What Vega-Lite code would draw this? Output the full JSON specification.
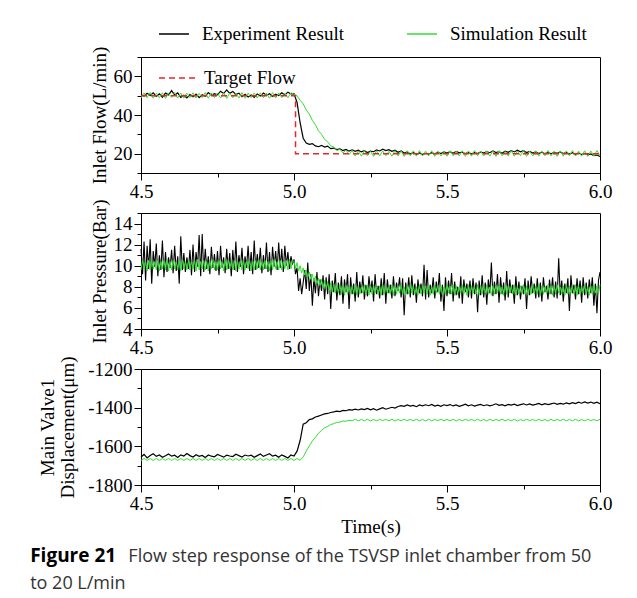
{
"$schema": "https://vega.github.io/schema/vega-lite/v6.json",
"background": "white",
"padding": {"left": 30, "top": 18, "right": 10, "bottom": 5},
"config": {
  "font": "Liberation Serif",
  "view": {"stroke": "black", "strokeWidth": 1},
  "axis": {"labelFont": "Liberation Serif", "labelFontSize": 19, "labelColor": "black", "titleFont": "Liberation Serif", "titleFontSize": 19, "titleFontWeight": "normal", "titleColor": "black", "grid": false, "domainColor": "black", "tickColor": "black", "labelPadding": 2, "titlePadding": 4, "labelFlush": false, "labelOverlap": false},
  "legend": {"labelFont": "Liberation Serif", "labelFontSize": 19, "labelColor": "black", "symbolType": "stroke"}
},
"datasets": {
"d": [
{"t":4.50,"fe":50.5,"fs":48.8,"de":-1655,"ds":-1673},
{"t":4.51,"fe":49.8,"fs":51.4,"de":-1642,"ds":-1663},
{"t":4.52,"fe":51.2,"fs":49.0,"de":-1660,"ds":-1673},
{"t":4.53,"fe":50.1,"fs":51.6,"de":-1648,"ds":-1663},
{"t":4.54,"fe":51.5,"fs":48.7,"de":-1638,"ds":-1673},
{"t":4.55,"fe":49.6,"fs":51.3,"de":-1652,"ds":-1663},
{"t":4.56,"fe":50.9,"fs":48.9,"de":-1645,"ds":-1673},
{"t":4.57,"fe":49.2,"fs":51.5,"de":-1657,"ds":-1663},
{"t":4.58,"fe":51.3,"fs":48.6,"de":-1649,"ds":-1673},
{"t":4.59,"fe":50.4,"fs":51.2,"de":-1640,"ds":-1663},
{"t":4.60,"fe":52.6,"fs":49.1,"de":-1651,"ds":-1673},
{"t":4.61,"fe":50.3,"fs":51.6,"de":-1646,"ds":-1663},
{"t":4.62,"fe":51.4,"fs":48.8,"de":-1658,"ds":-1673},
{"t":4.63,"fe":49.1,"fs":51.4,"de":-1644,"ds":-1663},
{"t":4.64,"fe":50.2,"fs":48.7,"de":-1650,"ds":-1673},
{"t":4.65,"fe":48.8,"fs":51.3,"de":-1637,"ds":-1663},
{"t":4.66,"fe":50.6,"fs":49.0,"de":-1648,"ds":-1673},
{"t":4.67,"fe":49.4,"fs":51.5,"de":-1655,"ds":-1663},
{"t":4.68,"fe":50.8,"fs":48.8,"de":-1643,"ds":-1673},
{"t":4.69,"fe":49.0,"fs":51.2,"de":-1652,"ds":-1663},
{"t":4.70,"fe":50.5,"fs":48.9,"de":-1647,"ds":-1673},
{"t":4.71,"fe":49.7,"fs":51.6,"de":-1658,"ds":-1663},
{"t":4.72,"fe":51.6,"fs":48.7,"de":-1645,"ds":-1673},
{"t":4.73,"fe":50.2,"fs":51.4,"de":-1651,"ds":-1663},
{"t":4.74,"fe":51.0,"fs":49.0,"de":-1654,"ds":-1673},
{"t":4.75,"fe":50.4,"fs":51.3,"de":-1642,"ds":-1663},
{"t":4.76,"fe":52.3,"fs":48.8,"de":-1649,"ds":-1673},
{"t":4.77,"fe":51.1,"fs":51.5,"de":-1656,"ds":-1663},
{"t":4.78,"fe":53.0,"fs":48.6,"de":-1646,"ds":-1673},
{"t":4.79,"fe":51.2,"fs":51.4,"de":-1650,"ds":-1663},
{"t":4.80,"fe":52.2,"fs":48.9,"de":-1653,"ds":-1673},
{"t":4.81,"fe":50.6,"fs":51.2,"de":-1641,"ds":-1663},
{"t":4.82,"fe":51.3,"fs":48.8,"de":-1648,"ds":-1673},
{"t":4.83,"fe":49.5,"fs":51.6,"de":-1655,"ds":-1663},
{"t":4.84,"fe":50.7,"fs":48.7,"de":-1645,"ds":-1673},
{"t":4.85,"fe":49.3,"fs":51.3,"de":-1650,"ds":-1663},
{"t":4.86,"fe":50.4,"fs":49.0,"de":-1646,"ds":-1673},
{"t":4.87,"fe":49.1,"fs":51.4,"de":-1657,"ds":-1663},
{"t":4.88,"fe":50.9,"fs":48.8,"de":-1648,"ds":-1673},
{"t":4.89,"fe":49.8,"fs":51.5,"de":-1640,"ds":-1663},
{"t":4.90,"fe":51.4,"fs":48.9,"de":-1652,"ds":-1673},
{"t":4.91,"fe":50.2,"fs":51.3,"de":-1645,"ds":-1663},
{"t":4.92,"fe":51.0,"fs":48.7,"de":-1638,"ds":-1673},
{"t":4.93,"fe":49.6,"fs":51.6,"de":-1651,"ds":-1663},
{"t":4.94,"fe":50.8,"fs":48.8,"de":-1646,"ds":-1673},
{"t":4.95,"fe":50.1,"fs":51.4,"de":-1656,"ds":-1663},
{"t":4.96,"fe":51.5,"fs":49.0,"de":-1644,"ds":-1673},
{"t":4.97,"fe":50.3,"fs":51.2,"de":-1652,"ds":-1663},
{"t":4.98,"fe":51.8,"fs":48.9,"de":-1660,"ds":-1673},
{"t":4.99,"fe":50.9,"fs":51.5,"de":-1645,"ds":-1663},
{"t":5.00,"fe":51.0,"fs":50.8,"de":-1650,"ds":-1673},
{"t":5.01,"fe":46.5,"fs":50.0,"de":-1625,"ds":-1663},
{"t":5.02,"fe":36.0,"fs":47.6,"de":-1570,"ds":-1672},
{"t":5.03,"fe":28.0,"fs":45.8,"de":-1485,"ds":-1655},
{"t":5.04,"fe":25.5,"fs":42.6,"de":-1478,"ds":-1625},
{"t":5.05,"fe":24.8,"fs":40.5,"de":-1462,"ds":-1598},
{"t":5.06,"fe":25.2,"fs":37.2,"de":-1458,"ds":-1572},
{"t":5.07,"fe":24.0,"fs":35.0,"de":-1448,"ds":-1553},
{"t":5.08,"fe":23.6,"fs":31.8,"de":-1444,"ds":-1532},
{"t":5.09,"fe":24.3,"fs":30.0,"de":-1438,"ds":-1518},
{"t":5.10,"fe":23.4,"fs":27.4,"de":-1432,"ds":-1504},
{"t":5.11,"fe":23.9,"fs":26.2,"de":-1430,"ds":-1497},
{"t":5.12,"fe":22.6,"fs":24.0,"de":-1425,"ds":-1487},
{"t":5.13,"fe":22.9,"fs":23.5,"de":-1422,"ds":-1483},
{"t":5.14,"fe":22.1,"fs":21.6,"de":-1418,"ds":-1476},
{"t":5.15,"fe":22.5,"fs":22.3,"de":-1420,"ds":-1475},
{"t":5.16,"fe":21.6,"fs":20.4,"de":-1414,"ds":-1469},
{"t":5.17,"fe":22.2,"fs":21.8,"de":-1416,"ds":-1470},
{"t":5.18,"fe":21.3,"fs":19.6,"de":-1410,"ds":-1465},
{"t":5.19,"fe":22.0,"fs":21.6,"de":-1413,"ds":-1468},
{"t":5.20,"fe":21.2,"fs":18.8,"de":-1408,"ds":-1460},
{"t":5.21,"fe":21.8,"fs":21.4,"de":-1412,"ds":-1468},
{"t":5.22,"fe":20.9,"fs":18.7,"de":-1406,"ds":-1461},
{"t":5.23,"fe":21.5,"fs":21.6,"de":-1410,"ds":-1468},
{"t":5.24,"fe":20.6,"fs":18.9,"de":-1404,"ds":-1460},
{"t":5.25,"fe":21.3,"fs":21.3,"de":-1411,"ds":-1469},
{"t":5.26,"fe":21.0,"fs":18.6,"de":-1405,"ds":-1461},
{"t":5.27,"fe":21.9,"fs":21.5,"de":-1413,"ds":-1468},
{"t":5.28,"fe":21.4,"fs":18.8,"de":-1406,"ds":-1460},
{"t":5.29,"fe":22.3,"fs":21.4,"de":-1400,"ds":-1467},
{"t":5.30,"fe":21.6,"fs":18.9,"de":-1408,"ds":-1461},
{"t":5.31,"fe":22.1,"fs":21.2,"de":-1403,"ds":-1468},
{"t":5.32,"fe":21.2,"fs":18.7,"de":-1398,"ds":-1460},
{"t":5.33,"fe":21.8,"fs":21.6,"de":-1402,"ds":-1469},
{"t":5.34,"fe":20.7,"fs":18.8,"de":-1394,"ds":-1461},
{"t":5.35,"fe":21.4,"fs":21.3,"de":-1390,"ds":-1468},
{"t":5.36,"fe":20.3,"fs":18.6,"de":-1393,"ds":-1460},
{"t":5.37,"fe":20.9,"fs":21.5,"de":-1386,"ds":-1467},
{"t":5.38,"fe":19.8,"fs":18.9,"de":-1392,"ds":-1461},
{"t":5.39,"fe":20.6,"fs":21.4,"de":-1388,"ds":-1468},
{"t":5.40,"fe":19.7,"fs":18.7,"de":-1395,"ds":-1460},
{"t":5.41,"fe":20.4,"fs":21.6,"de":-1386,"ds":-1468},
{"t":5.42,"fe":19.5,"fs":18.8,"de":-1391,"ds":-1461},
{"t":5.43,"fe":20.2,"fs":21.3,"de":-1385,"ds":-1469},
{"t":5.44,"fe":19.6,"fs":18.9,"de":-1390,"ds":-1460},
{"t":5.45,"fe":20.5,"fs":21.5,"de":-1383,"ds":-1468},
{"t":5.46,"fe":19.9,"fs":18.6,"de":-1392,"ds":-1461},
{"t":5.47,"fe":20.7,"fs":21.4,"de":-1387,"ds":-1467},
{"t":5.48,"fe":20.1,"fs":18.8,"de":-1393,"ds":-1460},
{"t":5.49,"fe":20.9,"fs":21.2,"de":-1385,"ds":-1468},
{"t":5.50,"fe":20.3,"fs":18.7,"de":-1389,"ds":-1461},
{"t":5.51,"fe":21.0,"fs":21.6,"de":-1384,"ds":-1468},
{"t":5.52,"fe":20.2,"fs":18.9,"de":-1391,"ds":-1460},
{"t":5.53,"fe":21.2,"fs":21.3,"de":-1386,"ds":-1469},
{"t":5.54,"fe":20.4,"fs":18.8,"de":-1393,"ds":-1461},
{"t":5.55,"fe":20.8,"fs":21.5,"de":-1388,"ds":-1468},
{"t":5.56,"fe":20.0,"fs":18.6,"de":-1382,"ds":-1460},
{"t":5.57,"fe":20.7,"fs":21.4,"de":-1390,"ds":-1467},
{"t":5.58,"fe":19.8,"fs":18.7,"de":-1385,"ds":-1461},
{"t":5.59,"fe":20.6,"fs":21.6,"de":-1392,"ds":-1468},
{"t":5.60,"fe":20.1,"fs":18.9,"de":-1387,"ds":-1460},
{"t":5.61,"fe":20.9,"fs":21.3,"de":-1383,"ds":-1468},
{"t":5.62,"fe":20.3,"fs":18.8,"de":-1390,"ds":-1461},
{"t":5.63,"fe":21.1,"fs":21.5,"de":-1385,"ds":-1469},
{"t":5.64,"fe":20.5,"fs":18.7,"de":-1391,"ds":-1460},
{"t":5.65,"fe":21.4,"fs":21.4,"de":-1386,"ds":-1468},
{"t":5.66,"fe":20.6,"fs":18.6,"de":-1380,"ds":-1461},
{"t":5.67,"fe":21.0,"fs":21.6,"de":-1388,"ds":-1467},
{"t":5.68,"fe":20.2,"fs":18.9,"de":-1384,"ds":-1460},
{"t":5.69,"fe":21.3,"fs":21.2,"de":-1390,"ds":-1468},
{"t":5.70,"fe":20.7,"fs":18.8,"de":-1383,"ds":-1461},
{"t":5.71,"fe":21.6,"fs":21.5,"de":-1387,"ds":-1468},
{"t":5.72,"fe":20.9,"fs":18.7,"de":-1382,"ds":-1460},
{"t":5.73,"fe":21.8,"fs":21.4,"de":-1389,"ds":-1469},
{"t":5.74,"fe":21.0,"fs":18.9,"de":-1384,"ds":-1461},
{"t":5.75,"fe":21.5,"fs":21.6,"de":-1380,"ds":-1468},
{"t":5.76,"fe":20.6,"fs":18.6,"de":-1386,"ds":-1460},
{"t":5.77,"fe":21.2,"fs":21.3,"de":-1381,"ds":-1467},
{"t":5.78,"fe":20.3,"fs":18.8,"de":-1387,"ds":-1461},
{"t":5.79,"fe":20.9,"fs":21.5,"de":-1383,"ds":-1468},
{"t":5.80,"fe":20.1,"fs":18.7,"de":-1378,"ds":-1460},
{"t":5.81,"fe":20.8,"fs":21.4,"de":-1385,"ds":-1468},
{"t":5.82,"fe":20.0,"fs":18.9,"de":-1379,"ds":-1461},
{"t":5.83,"fe":20.6,"fs":21.6,"de":-1384,"ds":-1469},
{"t":5.84,"fe":19.9,"fs":18.8,"de":-1380,"ds":-1460},
{"t":5.85,"fe":20.7,"fs":21.3,"de":-1376,"ds":-1468},
{"t":5.86,"fe":20.2,"fs":18.6,"de":-1383,"ds":-1461},
{"t":5.87,"fe":20.9,"fs":21.5,"de":-1378,"ds":-1467},
{"t":5.88,"fe":20.1,"fs":18.7,"de":-1382,"ds":-1460},
{"t":5.89,"fe":20.6,"fs":21.4,"de":-1375,"ds":-1468},
{"t":5.90,"fe":19.8,"fs":18.9,"de":-1380,"ds":-1461},
{"t":5.91,"fe":20.5,"fs":21.6,"de":-1374,"ds":-1468},
{"t":5.92,"fe":19.7,"fs":18.8,"de":-1379,"ds":-1460},
{"t":5.93,"fe":20.3,"fs":21.3,"de":-1372,"ds":-1469},
{"t":5.94,"fe":19.5,"fs":18.7,"de":-1377,"ds":-1461},
{"t":5.95,"fe":20.1,"fs":21.5,"de":-1370,"ds":-1468},
{"t":5.96,"fe":19.4,"fs":18.6,"de":-1376,"ds":-1460},
{"t":5.97,"fe":19.9,"fs":21.4,"de":-1371,"ds":-1467},
{"t":5.98,"fe":19.0,"fs":18.8,"de":-1378,"ds":-1461},
{"t":5.99,"fe":19.3,"fs":21.6,"de":-1372,"ds":-1468},
{"t":6.00,"fe":18.5,"fs":18.9,"de":-1380,"ds":-1460}
],
"p": [
{"t":4.500,"pe":11.6,"ps":9.6},{"t":4.505,"pe":9.2,"ps":10.5},{"t":4.510,"pe":12.3,"ps":9.7},{"t":4.515,"pe":8.6,"ps":10.4},{"t":4.520,"pe":11.9,"ps":9.5},
{"t":4.525,"pe":9.7,"ps":10.5},{"t":4.530,"pe":12.5,"ps":9.6},{"t":4.535,"pe":8.3,"ps":10.6},{"t":4.540,"pe":11.4,"ps":9.7},{"t":4.545,"pe":9.9,"ps":10.4},
{"t":4.550,"pe":12.1,"ps":9.6},{"t":4.555,"pe":9.0,"ps":10.5},{"t":4.560,"pe":11.0,"ps":9.5},{"t":4.565,"pe":9.6,"ps":10.4},{"t":4.570,"pe":12.4,"ps":9.7},
{"t":4.575,"pe":8.9,"ps":10.5},{"t":4.580,"pe":11.3,"ps":9.6},{"t":4.585,"pe":9.4,"ps":10.6},{"t":4.590,"pe":10.8,"ps":9.5},{"t":4.595,"pe":9.8,"ps":10.4},
{"t":4.600,"pe":11.5,"ps":9.6},{"t":4.605,"pe":9.3,"ps":10.5},{"t":4.610,"pe":11.9,"ps":9.7},{"t":4.615,"pe":9.5,"ps":10.4},{"t":4.620,"pe":10.9,"ps":9.6},
{"t":4.625,"pe":8.3,"ps":10.5},{"t":4.630,"pe":12.8,"ps":9.5},{"t":4.635,"pe":9.6,"ps":10.6},{"t":4.640,"pe":11.2,"ps":9.7},{"t":4.645,"pe":9.4,"ps":10.4},
{"t":4.650,"pe":10.8,"ps":9.6},{"t":4.655,"pe":9.7,"ps":10.5},{"t":4.660,"pe":11.5,"ps":9.6},{"t":4.665,"pe":9.1,"ps":10.4},{"t":4.670,"pe":12.0,"ps":9.7},
{"t":4.675,"pe":9.4,"ps":10.5},{"t":4.680,"pe":11.3,"ps":9.5},{"t":4.685,"pe":9.9,"ps":10.6},{"t":4.690,"pe":12.9,"ps":9.6},{"t":4.695,"pe":9.0,"ps":10.4},
{"t":4.700,"pe":13.0,"ps":9.7},{"t":4.705,"pe":9.4,"ps":10.5},{"t":4.710,"pe":11.6,"ps":9.6},{"t":4.715,"pe":9.7,"ps":10.4},{"t":4.720,"pe":10.9,"ps":9.5},
{"t":4.725,"pe":9.2,"ps":10.5},{"t":4.730,"pe":11.8,"ps":9.7},{"t":4.735,"pe":9.8,"ps":10.6},{"t":4.740,"pe":11.1,"ps":9.6},{"t":4.745,"pe":9.5,"ps":10.4},
{"t":4.750,"pe":11.4,"ps":9.6},{"t":4.755,"pe":9.1,"ps":10.5},{"t":4.760,"pe":11.9,"ps":9.7},{"t":4.765,"pe":9.8,"ps":10.4},{"t":4.770,"pe":10.8,"ps":9.5},
{"t":4.775,"pe":9.3,"ps":10.5},{"t":4.780,"pe":11.6,"ps":9.6},{"t":4.785,"pe":9.7,"ps":10.6},{"t":4.790,"pe":11.2,"ps":9.7},{"t":4.795,"pe":9.0,"ps":10.4},
{"t":4.800,"pe":11.5,"ps":9.6},{"t":4.805,"pe":9.6,"ps":10.5},{"t":4.810,"pe":12.3,"ps":9.5},{"t":4.815,"pe":9.4,"ps":10.4},{"t":4.820,"pe":11.0,"ps":9.7},
{"t":4.825,"pe":9.9,"ps":10.5},{"t":4.830,"pe":11.7,"ps":9.6},{"t":4.835,"pe":9.2,"ps":10.6},{"t":4.840,"pe":10.9,"ps":9.6},{"t":4.845,"pe":9.8,"ps":10.4},
{"t":4.850,"pe":11.9,"ps":9.7},{"t":4.855,"pe":9.5,"ps":10.5},{"t":4.860,"pe":11.3,"ps":9.5},{"t":4.865,"pe":9.2,"ps":10.4},{"t":4.870,"pe":12.4,"ps":9.6},
{"t":4.875,"pe":9.6,"ps":10.5},{"t":4.880,"pe":11.1,"ps":9.7},{"t":4.885,"pe":9.8,"ps":10.6},{"t":4.890,"pe":11.7,"ps":9.6},{"t":4.895,"pe":9.3,"ps":10.4},
{"t":4.900,"pe":11.0,"ps":9.6},{"t":4.905,"pe":9.7,"ps":10.5},{"t":4.910,"pe":12.2,"ps":9.7},{"t":4.915,"pe":9.4,"ps":10.4},{"t":4.920,"pe":11.3,"ps":9.5},
{"t":4.925,"pe":9.1,"ps":10.5},{"t":4.930,"pe":11.8,"ps":9.6},{"t":4.935,"pe":9.9,"ps":10.6},{"t":4.940,"pe":11.4,"ps":9.7},{"t":4.945,"pe":9.6,"ps":10.4},
{"t":4.950,"pe":12.2,"ps":9.6},{"t":4.955,"pe":9.8,"ps":10.5},{"t":4.960,"pe":11.6,"ps":9.6},{"t":4.965,"pe":9.4,"ps":10.4},{"t":4.970,"pe":11.9,"ps":9.7},
{"t":4.975,"pe":10.0,"ps":10.5},{"t":4.980,"pe":11.3,"ps":9.6},{"t":4.985,"pe":9.7,"ps":10.6},{"t":4.990,"pe":10.9,"ps":9.7},{"t":4.995,"pe":10.2,"ps":10.5},
{"t":5.000,"pe":10.6,"ps":10.4},{"t":5.005,"pe":9.2,"ps":9.7},{"t":5.010,"pe":9.8,"ps":10.3},{"t":5.015,"pe":7.6,"ps":9.5},{"t":5.020,"pe":8.8,"ps":10.0},
{"t":5.025,"pe":7.3,"ps":9.3},{"t":5.030,"pe":8.4,"ps":9.8},{"t":5.035,"pe":9.6,"ps":9.1},{"t":5.040,"pe":7.8,"ps":9.6},{"t":5.045,"pe":10.3,"ps":8.9},
{"t":5.050,"pe":7.6,"ps":9.4},{"t":5.055,"pe":9.2,"ps":8.7},{"t":5.060,"pe":6.2,"ps":9.2},{"t":5.065,"pe":8.8,"ps":8.5},{"t":5.070,"pe":7.4,"ps":9.0},
{"t":5.075,"pe":9.4,"ps":8.3},{"t":5.080,"pe":7.1,"ps":8.8},{"t":5.085,"pe":8.7,"ps":8.1},{"t":5.090,"pe":7.6,"ps":8.7},{"t":5.095,"pe":9.1,"ps":7.9},
{"t":5.100,"pe":6.8,"ps":8.6},{"t":5.105,"pe":8.9,"ps":7.8},{"t":5.110,"pe":7.3,"ps":8.5},{"t":5.115,"pe":9.2,"ps":7.6},{"t":5.120,"pe":5.9,"ps":8.4},
{"t":5.125,"pe":8.6,"ps":7.5},{"t":5.130,"pe":7.5,"ps":8.3},{"t":5.135,"pe":9.3,"ps":7.4},{"t":5.140,"pe":6.7,"ps":8.2},{"t":5.145,"pe":8.4,"ps":7.4},
{"t":5.150,"pe":7.2,"ps":8.2},{"t":5.155,"pe":9.0,"ps":7.3},{"t":5.160,"pe":6.4,"ps":8.1},{"t":5.165,"pe":8.7,"ps":7.2},{"t":5.170,"pe":7.5,"ps":8.2},
{"t":5.175,"pe":9.2,"ps":7.3},{"t":5.180,"pe":5.9,"ps":8.0},{"t":5.185,"pe":8.9,"ps":7.4},{"t":5.190,"pe":7.3,"ps":8.1},{"t":5.195,"pe":8.3,"ps":7.3},
{"t":5.200,"pe":6.6,"ps":8.2},{"t":5.205,"pe":9.4,"ps":7.2},{"t":5.210,"pe":7.0,"ps":8.1},{"t":5.215,"pe":8.5,"ps":7.3},{"t":5.220,"pe":7.4,"ps":8.0},
{"t":5.225,"pe":9.1,"ps":7.4},{"t":5.230,"pe":6.8,"ps":8.2},{"t":5.235,"pe":8.2,"ps":7.3},{"t":5.240,"pe":7.1,"ps":8.1},{"t":5.245,"pe":9.0,"ps":7.2},
{"t":5.250,"pe":7.5,"ps":8.1},{"t":5.255,"pe":8.6,"ps":7.3},{"t":5.260,"pe":6.6,"ps":8.2},{"t":5.265,"pe":9.2,"ps":7.4},{"t":5.270,"pe":7.3,"ps":8.0},
{"t":5.275,"pe":8.1,"ps":7.3},{"t":5.280,"pe":6.9,"ps":8.1},{"t":5.285,"pe":8.8,"ps":7.2},{"t":5.290,"pe":7.2,"ps":8.2},{"t":5.295,"pe":9.3,"ps":7.3},
{"t":5.300,"pe":6.4,"ps":8.1},{"t":5.305,"pe":8.7,"ps":7.4},{"t":5.310,"pe":7.4,"ps":8.0},{"t":5.315,"pe":8.2,"ps":7.3},{"t":5.320,"pe":6.9,"ps":8.2},
{"t":5.325,"pe":9.0,"ps":7.2},{"t":5.330,"pe":7.1,"ps":8.1},{"t":5.335,"pe":8.4,"ps":7.3},{"t":5.340,"pe":7.6,"ps":8.1},{"t":5.345,"pe":8.9,"ps":7.4},
{"t":5.350,"pe":7.0,"ps":8.2},{"t":5.355,"pe":8.8,"ps":7.3},{"t":5.360,"pe":5.3,"ps":8.0},{"t":5.365,"pe":8.4,"ps":7.2},{"t":5.370,"pe":7.3,"ps":8.1},
{"t":5.375,"pe":8.9,"ps":7.3},{"t":5.380,"pe":7.0,"ps":8.2},{"t":5.385,"pe":9.1,"ps":7.4},{"t":5.390,"pe":7.2,"ps":8.1},{"t":5.395,"pe":8.3,"ps":7.3},
{"t":5.400,"pe":6.5,"ps":8.0},{"t":5.405,"pe":8.7,"ps":7.2},{"t":5.410,"pe":7.4,"ps":8.2},{"t":5.415,"pe":8.3,"ps":7.3},{"t":5.420,"pe":7.1,"ps":8.1},
{"t":5.425,"pe":10.1,"ps":7.4},{"t":5.430,"pe":6.8,"ps":8.1},{"t":5.435,"pe":9.6,"ps":7.3},{"t":5.440,"pe":7.0,"ps":8.2},{"t":5.445,"pe":8.2,"ps":7.2},
{"t":5.450,"pe":7.4,"ps":8.0},{"t":5.455,"pe":8.9,"ps":7.3},{"t":5.460,"pe":6.9,"ps":8.1},{"t":5.465,"pe":8.5,"ps":7.4},{"t":5.470,"pe":7.5,"ps":8.2},
{"t":5.475,"pe":9.3,"ps":7.3},{"t":5.480,"pe":6.6,"ps":8.1},{"t":5.485,"pe":8.2,"ps":7.2},{"t":5.490,"pe":5.7,"ps":8.0},{"t":5.495,"pe":8.9,"ps":7.3},
{"t":5.500,"pe":7.1,"ps":8.2},{"t":5.505,"pe":8.6,"ps":7.4},{"t":5.510,"pe":7.3,"ps":8.1},{"t":5.515,"pe":9.3,"ps":7.3},{"t":5.520,"pe":6.6,"ps":8.2},
{"t":5.525,"pe":8.5,"ps":7.2},{"t":5.530,"pe":7.2,"ps":8.1},{"t":5.535,"pe":8.0,"ps":7.3},{"t":5.540,"pe":6.9,"ps":8.0},{"t":5.545,"pe":9.0,"ps":7.4},
{"t":5.550,"pe":6.4,"ps":8.2},{"t":5.555,"pe":8.7,"ps":7.3},{"t":5.560,"pe":7.5,"ps":8.1},{"t":5.565,"pe":8.3,"ps":7.2},{"t":5.570,"pe":7.0,"ps":8.2},
{"t":5.575,"pe":8.6,"ps":7.3},{"t":5.580,"pe":6.9,"ps":8.1},{"t":5.585,"pe":8.8,"ps":7.4},{"t":5.590,"pe":7.3,"ps":8.0},{"t":5.595,"pe":8.4,"ps":7.3},
{"t":5.600,"pe":5.6,"ps":8.2},{"t":5.605,"pe":8.6,"ps":7.2},{"t":5.610,"pe":7.2,"ps":8.1},{"t":5.615,"pe":9.1,"ps":7.3},{"t":5.620,"pe":7.0,"ps":8.1},
{"t":5.625,"pe":8.4,"ps":7.4},{"t":5.630,"pe":6.3,"ps":8.2},{"t":5.635,"pe":8.7,"ps":7.3},{"t":5.640,"pe":7.4,"ps":8.0},{"t":5.645,"pe":10.3,"ps":7.2},
{"t":5.650,"pe":7.1,"ps":8.1},{"t":5.655,"pe":8.5,"ps":7.3},{"t":5.660,"pe":7.3,"ps":8.2},{"t":5.665,"pe":9.2,"ps":7.4},{"t":5.670,"pe":6.5,"ps":8.1},
{"t":5.675,"pe":8.9,"ps":7.3},{"t":5.680,"pe":7.3,"ps":8.0},{"t":5.685,"pe":8.4,"ps":7.2},{"t":5.690,"pe":6.7,"ps":8.2},{"t":5.695,"pe":9.5,"ps":7.3},
{"t":5.700,"pe":7.0,"ps":8.1},{"t":5.705,"pe":8.7,"ps":7.4},{"t":5.710,"pe":7.4,"ps":8.1},{"t":5.715,"pe":8.2,"ps":7.3},{"t":5.720,"pe":6.4,"ps":8.2},
{"t":5.725,"pe":9.0,"ps":7.2},{"t":5.730,"pe":7.2,"ps":8.0},{"t":5.735,"pe":8.5,"ps":7.3},{"t":5.740,"pe":6.8,"ps":8.1},{"t":5.745,"pe":8.1,"ps":7.4},
{"t":5.750,"pe":7.3,"ps":8.2},{"t":5.755,"pe":8.8,"ps":7.3},{"t":5.760,"pe":5.9,"ps":8.1},{"t":5.765,"pe":8.6,"ps":7.2},{"t":5.770,"pe":7.2,"ps":8.0},
{"t":5.775,"pe":9.0,"ps":7.3},{"t":5.780,"pe":7.4,"ps":8.2},{"t":5.785,"pe":8.3,"ps":7.4},{"t":5.790,"pe":6.9,"ps":8.1},{"t":5.795,"pe":8.8,"ps":7.3},
{"t":5.800,"pe":7.0,"ps":8.2},{"t":5.805,"pe":8.4,"ps":7.2},{"t":5.810,"pe":6.6,"ps":8.1},{"t":5.815,"pe":8.9,"ps":7.3},{"t":5.820,"pe":7.5,"ps":8.0},
{"t":5.825,"pe":8.1,"ps":7.4},{"t":5.830,"pe":6.8,"ps":8.2},{"t":5.835,"pe":8.7,"ps":7.3},{"t":5.840,"pe":7.3,"ps":8.1},{"t":5.845,"pe":8.9,"ps":7.2},
{"t":5.850,"pe":7.0,"ps":8.1},{"t":5.855,"pe":8.5,"ps":7.3},{"t":5.860,"pe":6.9,"ps":8.2},{"t":5.865,"pe":10.7,"ps":7.4},{"t":5.870,"pe":7.2,"ps":8.0},
{"t":5.875,"pe":8.6,"ps":7.3},{"t":5.880,"pe":6.6,"ps":8.1},{"t":5.885,"pe":8.3,"ps":7.2},{"t":5.890,"pe":7.4,"ps":8.2},{"t":5.895,"pe":8.8,"ps":7.3},
{"t":5.900,"pe":5.7,"ps":8.1},{"t":5.905,"pe":9.1,"ps":7.4},{"t":5.910,"pe":7.4,"ps":8.0},{"t":5.915,"pe":8.2,"ps":7.3},{"t":5.920,"pe":6.8,"ps":8.2},
{"t":5.925,"pe":8.8,"ps":7.2},{"t":5.930,"pe":7.3,"ps":8.1},{"t":5.935,"pe":8.6,"ps":7.3},{"t":5.940,"pe":6.5,"ps":8.1},{"t":5.945,"pe":8.9,"ps":7.4},
{"t":5.950,"pe":7.2,"ps":8.2},{"t":5.955,"pe":8.4,"ps":7.3},{"t":5.960,"pe":6.9,"ps":8.0},{"t":5.965,"pe":8.7,"ps":7.2},{"t":5.970,"pe":7.4,"ps":8.1},
{"t":5.975,"pe":8.9,"ps":7.3},{"t":5.980,"pe":6.2,"ps":8.2},{"t":5.985,"pe":8.3,"ps":7.4},{"t":5.990,"pe":5.5,"ps":8.1},{"t":5.995,"pe":8.6,"ps":7.3},
{"t":6.000,"pe":9.4,"ps":8.2}
],
"target": [
{"t":4.50,"v":50},
{"t":5.005,"v":20},
{"t":6.00,"v":20}
]
},
"title": {
  "text": "Figure 21",
  "subtitle": ["\u200b\u00a0\u00a0\u00a0\u00a0\u00a0\u00a0\u00a0\u00a0\u00a0\u00a0\u00a0\u00a0\u00a0\u00a0\u00a0\u00a0\u00a0\u00a0\u00a0\u00a0\u00a0Flow step response of the TSVSP inlet chamber from 50", "to 20 L/min"],
  "orient": "bottom", "anchor": "start",
  "font": "Open Sans", "fontSize": 19, "fontWeight": "bold", "color": "black",
  "subtitleFont": "Open Sans", "subtitleFontSize": 18, "subtitleColor": "#333333", "subtitleFontWeight": "normal",
  "subtitlePadding": -18, "subtitleLineHeight": 27,
  "offset": 10, "dx": -8
},
"bounds": "flush",
"spacing": 40,
"resolve": {"scale": {"strokeDash": "independent"}, "legend": {"strokeDash": "independent"}},
"vconcat": [
{
  "width": 459, "height": 116,
  "data": {"name": "d"},
  "resolve": {"axis": {"y": "independent"}},
  "layer": [
    {"mark": {"type": "line", "strokeWidth": 1.2},
     "encoding": {
       "x": {"field": "t", "type": "quantitative", "scale": {"domain": [4.5, 6], "nice": false},
             "axis": {"title": null, "values": [4.5, 4.75, 5, 5.25, 5.5, 5.75, 6], "labelOverlap": false,
                      "labelExpr": "round(datum.value*4) % 2 == 0 ? format(datum.value, '.1f') : ''",
                      "tickSize": {"condition": {"test": "round(datum.value*4) % 2 == 0", "value": 7}, "value": 4}}},
       "y": {"field": "fe", "type": "quantitative", "scale": {"domain": [10, 70], "nice": false},
             "axis": {"orient": "left", "title": "Inlet Flow(L/min)", "values": [20, 40, 60], "tickSize": 7, "labelOverlap": false}},
       "color": {"datum": "Experiment Result", "type": "nominal",
                 "scale": {"domain": ["Experiment Result", "Simulation Result"], "range": ["black", "#33e033"]},
                 "legend": {"title": null, "orient": "none", "legendX": 17, "legendY": -39, "direction": "horizontal", "symbolSize": 900, "symbolStrokeWidth": 1.5, "labelOffset": 12, "columnPadding": 60}}
     }},
    {"mark": {"type": "line", "strokeWidth": 1},
     "encoding": {
       "x": {"field": "t", "type": "quantitative"},
       "y": {"field": "fs", "type": "quantitative",
             "axis": {"orient": "left", "title": null, "values": [10, 30, 50, 70], "labels": false, "domain": false, "tickSize": 4}},
       "color": {"datum": "Simulation Result", "type": "nominal"}
     }},
    {"data": {"name": "target"},
     "mark": {"type": "line", "color": "#e8262a", "strokeWidth": 1.5, "interpolate": "step-after"},
     "encoding": {
       "x": {"field": "t", "type": "quantitative"},
       "y": {"field": "v", "type": "quantitative", "axis": null},
       "strokeDash": {"datum": "Target Flow", "type": "nominal", "scale": {"range": [[6, 4]]},
                      "legend": {"title": null, "orient": "none", "legendX": 17, "legendY": 1, "symbolSize": 1444, "symbolStrokeWidth": 1.5, "symbolStrokeColor": "#e8262a", "labelOffset": 6}}
     }}
  ]
},
{
  "width": 459, "height": 116,
  "data": {"name": "p"},
  "resolve": {"axis": {"y": "independent"}},
  "layer": [
    {"mark": {"type": "line", "strokeWidth": 1.1},
     "encoding": {
       "x": {"field": "t", "type": "quantitative", "scale": {"domain": [4.5, 6], "nice": false},
             "axis": {"title": null, "values": [4.5, 4.75, 5, 5.25, 5.5, 5.75, 6], "labelOverlap": false,
                      "labelExpr": "round(datum.value*4) % 2 == 0 ? format(datum.value, '.1f') : ''",
                      "tickSize": {"condition": {"test": "round(datum.value*4) % 2 == 0", "value": 7}, "value": 4}}},
       "y": {"field": "pe", "type": "quantitative", "scale": {"domain": [4, 15], "nice": false},
             "axis": {"orient": "left", "title": "Inlet Pressure(Bar)", "values": [4, 6, 8, 10, 12, 14], "tickSize": 7, "labelOverlap": false}},
       "color": {"datum": "Experiment Result", "type": "nominal",
                 "scale": {"domain": ["Experiment Result", "Simulation Result"], "range": ["black", "#33e033"]}}
     }},
    {"mark": {"type": "line", "strokeWidth": 1},
     "encoding": {
       "x": {"field": "t", "type": "quantitative"},
       "y": {"field": "ps", "type": "quantitative",
             "axis": {"orient": "left", "title": null, "values": [5, 7, 9, 11, 13, 15], "labels": false, "domain": false, "tickSize": 4}},
       "color": {"datum": "Simulation Result", "type": "nominal"}
     }}
  ]
},
{
  "width": 459, "height": 116,
  "data": {"name": "d"},
  "resolve": {"axis": {"y": "independent"}},
  "layer": [
    {"mark": {"type": "line", "strokeWidth": 1.2},
     "encoding": {
       "x": {"field": "t", "type": "quantitative", "scale": {"domain": [4.5, 6], "nice": false},
             "axis": {"title": "Time(s)", "values": [4.5, 4.75, 5, 5.25, 5.5, 5.75, 6], "labelOverlap": false,
                      "labelExpr": "round(datum.value*4) % 2 == 0 ? format(datum.value, '.1f') : ''",
                      "tickSize": {"condition": {"test": "round(datum.value*4) % 2 == 0", "value": 7}, "value": 4}}},
       "y": {"field": "de", "type": "quantitative", "scale": {"domain": [-1800, -1200], "nice": false},
             "axis": {"orient": "left", "title": ["Main Valve1", "Displacement(\u03bcm)"], "titleLineHeight": 20, "titlePadding": 10, "labelOverlap": false,
                      "values": [-1800, -1600, -1400, -1200], "tickSize": 7,
                      "labelExpr": "'' + datum.value"}},
       "color": {"datum": "Experiment Result", "type": "nominal",
                 "scale": {"domain": ["Experiment Result", "Simulation Result"], "range": ["black", "#33e033"]}}
     }},
    {"mark": {"type": "line", "strokeWidth": 1},
     "encoding": {
       "x": {"field": "t", "type": "quantitative"},
       "y": {"field": "ds", "type": "quantitative",
             "axis": {"orient": "left", "title": null, "values": [-1700, -1500, -1300], "labels": false, "domain": false, "tickSize": 4}},
       "color": {"datum": "Simulation Result", "type": "nominal"}
     }}
  ]
}
]
}
